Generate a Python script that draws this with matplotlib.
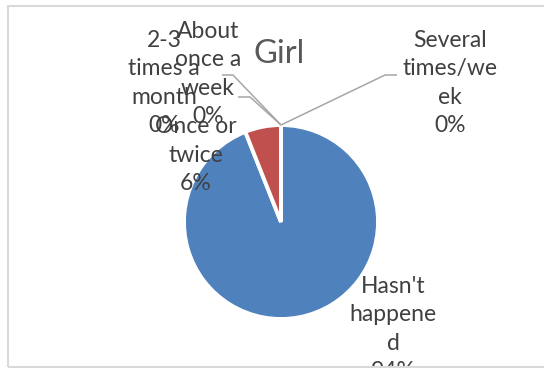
import matplotlib
matplotlib.use("Agg")
import matplotlib.pyplot as plt
from matplotlib.patches import Rectangle

matplotlib.rcParams["font.family"] = ["Lato", "DejaVu Sans"]

# data
categories = ["Hasn't\nhappene\nd", "Once or\ntwice", "2-3\ntimes a\nmonth",
              "About\nonce a\nweek", "Several\ntimes/we\nek"]
values = [94, 6, 0, 0, 0]
colors = ["#4F81BD", "#C0504D", "#9BBB59", "#8064A2", "#4BACC6"]
title = "Girl"

W, H = 544, 368
CX, CY, R = 281, 222, 97  # pie centre / radius in pixels


def px(x, y):
    # pixel position (from top-left) -> data coords of the pie axes
    return (x - CX) / R, (CY - y) / R


fig = plt.figure(figsize=(W / 100, H / 100), dpi=100)
ax = fig.add_axes([0, 0, 1, 1])

ax.pie(values, colors=colors, startangle=90, counterclock=False, radius=1,
       wedgeprops=dict(edgecolor="white", linewidth=2.8))

ax.set_xlim(-CX / R, (W - CX) / R)
ax.set_ylim(-(H - CY) / R, CY / R)
ax.set_aspect("equal")
ax.axis("off")

txt = "#404040"
fs = 16.5
total = sum(values)
labels = [f"{c}\n{round(v * 100 / total)}%" for c, v in zip(categories, values)]

# label positions (pixels) and leader lines
label_pos = [(393, 329), (196, 155), (164, 83), (208, 74), (450, 83)]
leaders = {2: [(233, 75), (222, 75)], 3: [(250, 97), (238, 97)], 4: [(385, 75), (397, 75)]}

for i, (lab, (lx, ly)) in enumerate(zip(labels, label_pos)):
    ax.text(*px(lx, ly), lab, ha="center", va="center", fontsize=fs,
            color=txt, linespacing=1.42)

top = (0, 1)
for i, pts in leaders.items():
    xs = [top[0]] + [px(*p)[0] for p in pts]
    ys = [top[1]] + [px(*p)[1] for p in pts]
    ax.plot(xs, ys, color="#A6A6A6", lw=1.1, solid_capstyle="butt", zorder=3)

ax.text(*px(279, 63), title, ha="center", va="baseline", fontsize=23.5, color="#595959")

# chart frame
fig.patches.append(Rectangle((8 / W, 1 / H), 1.1, 361 / H, transform=fig.transFigure,
                             fill=False, edgecolor="#D9D9D9", lw=1.5))

fig.savefig("out.png", dpi=100)
